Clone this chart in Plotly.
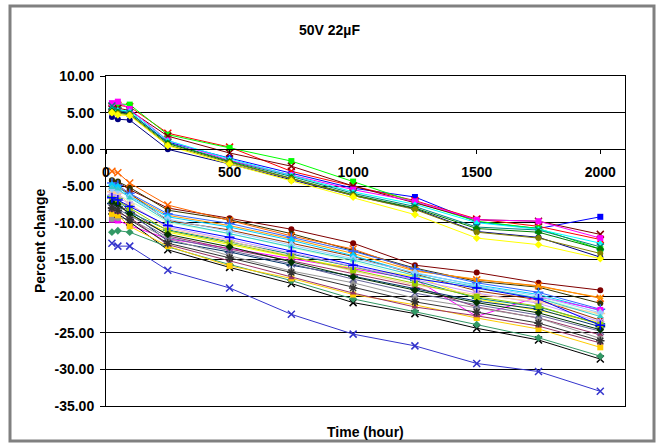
import plotly.graph_objects as go

# ---------------- data ----------------
HOURS = [24, 48, 96, 250, 500, 750, 1000, 1250, 1500, 1750, 2000]
X_TICKS = [0, 500, 1000, 1500, 2000]
Y_TICKS = [10, 5, 0, -5, -10, -15, -20, -25, -30, -35]

# upper group
U01 = [4.4, 4.1, 4.0, 0.0, -2.0, -4.2, -6.3, -8.1, -11.2, -12.0, -14.7]
U02 = [5.5, 5.2, 5.0, 1.0, -1.2, -3.3, -5.3, -6.5, -9.9, -10.8, -9.2]
U03 = [5.8, 6.0, 5.8, 2.2, 0.3, -3.0, -5.0, -7.0, -9.5, -10.5, -12.3]
U04 = [5.9, 6.2, 6.1, 2.0, 0.2, -1.6, -4.4, -7.2, -9.8, -10.8, -13.6]
U05 = [5.5, 5.6, 5.3, 1.8, -0.5, -2.3, -5.0, -7.3, -9.6, -9.8, -11.6]
U06 = [6.3, 6.5, 5.5, 1.2, -1.5, -3.5, -5.5, -7.1, -9.6, -9.8, -12.1]
U07 = [5.7, 5.4, 5.2, 1.2, -1.3, -3.5, -5.8, -7.5, -10.0, -10.9, -12.8]
U08 = [5.9, 5.3, 5.0, 0.9, -1.6, -3.7, -6.0, -7.8, -10.6, -11.0, -13.3]
U09 = [5.2, 5.0, 4.8, 0.8, -1.7, -3.9, -6.2, -8.0, -10.8, -11.3, -13.6]
U10 = [5.0, 4.9, 4.7, 0.6, -1.8, -4.0, -6.3, -8.2, -11.3, -12.1, -14.2]
U11 = [5.0, 4.7, 4.6, 0.5, -2.0, -4.3, -6.5, -8.9, -12.1, -13.0, -14.9]

# lower group
L01 = [-4.3, -4.5, -5.5, -8.0, -9.4, -10.9, -12.8, -15.8, -16.8, -18.2, -19.2]
L02 = [-4.2, -4.4, -5.2, -8.3, -9.6, -11.5, -13.8, -16.2, -18.0, -18.8, -21.0]
L03 = [-3.0, -3.2, -4.6, -7.6, -9.7, -11.8, -13.6, -16.5, -17.8, -18.6, -20.3]
L04 = [-4.8, -5.0, -6.2, -9.0, -10.4, -12.2, -14.2, -16.6, -17.7, -18.7, -20.2]
L05 = [-5.5, -5.3, -6.0, -9.7, -11.0, -12.8, -14.6, -17.0, -19.3, -20.5, -23.3]
L06 = [-4.6, -4.9, -6.0, -8.8, -10.1, -12.0, -13.9, -16.3, -18.2, -19.5, -21.8]
L07 = [-4.9, -5.1, -6.4, -9.2, -10.6, -12.4, -14.5, -16.9, -18.5, -19.8, -22.0]
L08 = [-6.0, -6.2, -7.0, -10.0, -11.5, -13.4, -15.3, -17.5, -19.0, -20.2, -22.6]
L09 = [-7.0, -7.3, -9.0, -11.3, -13.0, -14.7, -16.2, -17.3, -20.4, -22.0, -23.6]
L10 = [-9.6, -9.7, -10.4, -12.2, -13.5, -14.9, -16.2, -17.7, -22.8, -20.1, -21.9]
L11 = [-7.5, -7.8, -8.3, -11.8, -13.6, -15.2, -17.0, -18.7, -21.5, -23.0, -25.3]
L12 = [-6.4, -6.7, -8.6, -11.0, -12.6, -14.3, -16.0, -17.9, -20.3, -21.5, -23.8]
L13 = [-7.4, -7.8, -8.6, -12.5, -14.0, -15.8, -17.3, -19.0, -20.7, -21.8, -24.2]
L14 = [-9.5, -9.4, -9.5, -12.2, -14.5, -16.6, -18.2, -20.3, -21.6, -23.0, -25.8]
L15 = [-8.4, -8.8, -9.9, -13.7, -16.1, -18.3, -20.9, -22.4, -24.4, -26.0, -28.6]
L16 = [-11.3, -11.1, -11.3, -13.3, -15.7, -17.9, -20.4, -22.1, -23.9, -25.7, -28.2]
L17 = [-12.8, -13.2, -13.2, -16.5, -18.9, -22.5, -25.2, -26.8, -29.2, -30.3, -33.0]
L18 = [-8.8, -9.0, -10.5, -13.2, -15.9, -17.6, -19.8, -21.2, -23.0, -24.5, -27.0]
L19 = [-8.3, -8.6, -9.3, -13.0, -15.2, -17.5, -19.6, -21.5, -22.7, -24.1, -26.4]
L20 = [-6.2, -6.5, -7.5, -10.6, -12.3, -14.1, -16.0, -17.8, -19.6, -21.0, -23.5]
L21 = [-5.8, -6.0, -7.5, -10.8, -12.5, -14.6, -16.6, -18.5, -19.8, -20.8, -22.4]
L22 = [-5.4, -5.6, -6.5, -9.5, -11.2, -13.0, -14.9, -16.8, -18.6, -20.0, -22.3]
L23 = [-5.2, -5.4, -6.6, -9.8, -11.5, -13.3, -15.1, -17.2, -18.8, -20.3, -22.8]
L24 = [-6.8, -7.0, -8.0, -11.1, -12.8, -14.6, -16.5, -18.3, -20.1, -21.4, -23.9]
L25 = [-7.9, -8.2, -9.0, -12.0, -13.8, -15.6, -17.7, -19.6, -21.2, -22.6, -24.8]
L26 = [-7.2, -7.5, -8.8, -11.6, -13.3, -15.4, -17.4, -19.2, -20.9, -22.3, -24.6]
L27 = [-6.6, -6.9, -7.8, -10.4, -12.0, -13.9, -15.8, -17.6, -18.9, -20.4, -24.0]
L28 = [-8.0, -8.3, -9.6, -12.8, -14.8, -16.8, -18.9, -20.8, -22.2, -23.7, -26.1]

SERIES = [U01, U02, U03, U04, U05, U06, U07, U08, U09, U10, U11,
          L01, L02, L03, L04, L05, L06, L07, L08, L09, L10, L11, L12, L13, L14,
          L15, L16, L17, L18, L19, L20, L21, L22, L23, L24, L25, L26, L27, L28]

# ---------------- styles ----------------
COLORS = ["#000080", "#0000FF", "#FF0000", "#00FF00", "#800000", "#FF00FF", "#00FFFF",
          "#008080", "#008000", "#808000", "#FFFF00",
          "#800000", "#333300", "#FF6600", "#FF9900", "#993300", "#3366FF", "#00CCFF",
          "#CCFFCC", "#FFFF00", "#FF00FF", "#993366", "#008080", "#003366", "#969696",
          "#000000", "#339966", "#3333CC", "#FFCC00", "#993366", "#CC99FF", "#FFCC99",
          "#99CCFF", "#33CCCC", "#99CC00", "#666699", "#003300", "#0000FF", "#333333"]
SYMBOLS = ["circle", "square", "x-thin", "square", "x-thin", "square", "triangle-up",
           "x-thin", "diamond", "circle", "diamond",
           "circle", "circle", "x-thin", "triangle-up", "square", "cross-thin", "diamond",
           "circle", "triangle-up", "square", "triangle-up", "cross-thin", "cross-thin", "circle",
           "x-thin", "diamond", "x-thin", "square", "triangle-up", "asterisk", "cross-thin",
           "diamond", "triangle-up", "square", "x-thin", "diamond", "cross-thin", "asterisk"]

FONT = "Liberation Sans, Arial, sans-serif"

fig = go.Figure()
for i, ys in enumerate(SERIES):
    sym = SYMBOLS[i]
    col = COLORS[i]
    open_like = sym in ("x-thin", "cross-thin", "asterisk")
    fig.add_trace(go.Scatter(
        x=HOURS, y=ys, mode="lines+markers",
        line=dict(color=col, width=1),
        marker=dict(symbol=sym, size=7 if open_like else 6, color=col,
                    line=dict(color=col, width=1.5 if open_like else 0)),
        showlegend=False, hoverinfo="skip",
    ))

# plot area in pixels: x 106..625, y 76..406
Y_MIN, Y_MAX = -35, 10
X_MIN, X_MAX = 0, 2100

fig.update_layout(
    width=659, height=444,
    margin=dict(l=106, r=34, t=76, b=38, autoexpand=False),
    paper_bgcolor="white", plot_bgcolor="white",
    font=dict(family=FONT, size=14, color="black"),
    title=dict(text="50V 22µF", x=0.5, xref="container", xanchor="center",
               y=1 - 30 / 444, yanchor="middle", yref="container",
               font=dict(family=FONT, size=14, color="black", weight="bold")),
    xaxis=dict(range=[X_MIN, X_MAX], showgrid=False, zeroline=False, automargin=False,
               showline=True, linecolor="black", linewidth=1, mirror=True,
               showticklabels=False, ticks=""),
    xaxis2=dict(range=[X_MIN, X_MAX], overlaying="x", anchor="free", automargin=False,
                position=(0 - Y_MIN) / (Y_MAX - Y_MIN), side="bottom",
                tickmode="array", tickvals=X_TICKS, ticktext=[str(v) for v in X_TICKS],
                ticks="outside", ticklen=4, tickcolor="black", ticklabelstandoff=6,
                showline=True, linecolor="black", linewidth=1, showgrid=False, zeroline=False,
                tickfont=dict(family=FONT, size=14, color="black", weight="bold")),
    yaxis=dict(range=[Y_MIN, Y_MAX], tickmode="array", tickvals=Y_TICKS, automargin=False,
               ticktext=[f"{v:.2f}" for v in Y_TICKS],
               showgrid=True, gridcolor="black", gridwidth=1, zeroline=False,
               showline=True, linecolor="black", linewidth=1, mirror=True,
               ticks="outside", ticklen=5, tickcolor="black", ticklabelstandoff=3,
               tickfont=dict(family=FONT, size=14, color="black", weight="bold")),
    shapes=[dict(type="rect", xref="paper", yref="paper",
                 x0=(10 - 106) / 519, x1=(654 - 106) / 519,
                 y0=(406 - 441) / 330, y1=(406 - 6) / 330,
                 line=dict(color="#808080", width=3), fillcolor="rgba(0,0,0,0)",
                 layer="below")],
    annotations=[
        dict(text="Percent change", textangle=-90, xref="paper", yref="paper",
             x=(40 - 106) / 519, y=(406 - 241) / 330, xanchor="center",
             yanchor="middle", showarrow=False,
             font=dict(family=FONT, size=14, color="black", weight="bold")),
        dict(text="Time (hour)", xref="paper", yref="paper",
             x=0.5, y=(406 - 432) / 330, xanchor="center",
             yanchor="middle", showarrow=False,
             font=dict(family=FONT, size=14, color="black", weight="bold")),
    ],
)

# dummy invisible trace so xaxis2 is rendered
fig.add_trace(go.Scatter(x=[X_MIN], y=[Y_MIN], xaxis="x2", yaxis="y", mode="markers",
                         marker=dict(opacity=0), showlegend=False, hoverinfo="skip"))

fig.write_html("out.html")
